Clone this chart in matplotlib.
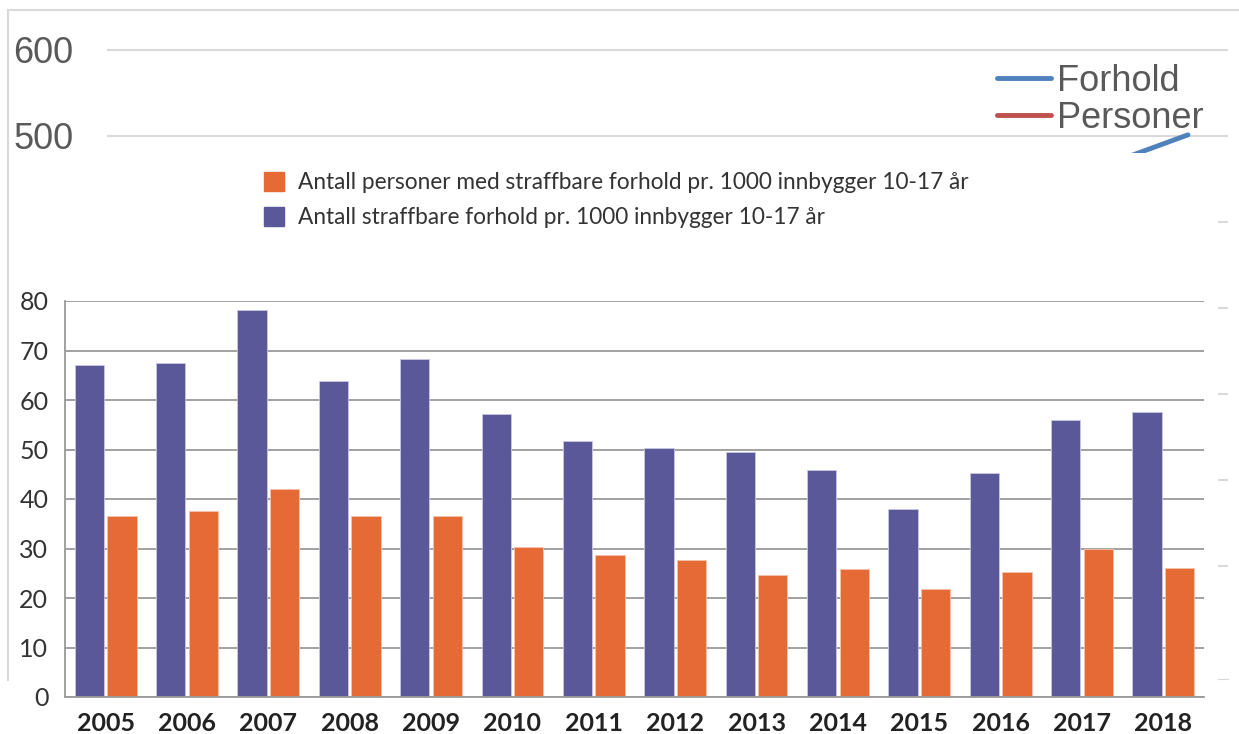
import numpy as np
import matplotlib
matplotlib.use("Agg")
import matplotlib.pyplot as plt
from matplotlib.lines import Line2D
from matplotlib.patches import Rectangle, Patch

# bar chart data (per 1000 inhabitants aged 10-17)
years = ['2005', '2006', '2007', '2008', '2009', '2010', '2011',
         '2012', '2013', '2014', '2015', '2016', '2017', '2018']
forhold = [67.0, 67.5, 78.2, 63.9, 68.3, 57.1, 51.8, 50.4, 49.4, 45.8, 37.9, 45.3, 56.0, 57.6]
personer = [36.6, 37.6, 42.0, 36.5, 36.5, 30.4, 28.7, 27.7, 24.7, 25.9, 21.8, 25.2, 29.8, 26.1]

# background line chart, only the last bit is visible
bg_years = [2017, 2018]
bg_forhold = [467, 501]
bg_ticks = [0, 100, 200, 300, 400, 500, 600]

W, H = 1239, 734
def box(x0, y0, x1, y1):
    return [x0 / W, 1 - y1 / H, (x1 - x0) / W, (y1 - y0) / H]

narrow = ['Lato', 'DejaVu Sans']
arial = ['Liberation Sans', 'DejaVu Sans']

fig = plt.figure(figsize=(W / 100, H / 100), dpi=100)

# --- background chart ---
bg = fig.add_axes(box(107, 10, 1228, 679))
bg.set_xlim(2004.5, 2018.5)
bg.set_ylim(-131, 646)
# labels under the pasted chart are hidden anyway
bg.set_yticks(bg_ticks, labels=[str(v) if v >= 500 else '' for v in bg_ticks])
bg.set_xticks([])
bg.grid(axis='y', color='#d9d9d9', lw=1.5)
for s in ['top', 'right', 'left']:
    bg.spines[s].set_visible(False)
bg.spines['bottom'].set_color('#d9d9d9')
bg.tick_params(axis='y', length=0, pad=24, labelsize=26, labelcolor='#595959')
for t in bg.get_yticklabels():
    t.set_family(arial)
bg.plot(bg_years, bg_forhold, color='#4f81bd', lw=3.5, solid_capstyle='round')
h = [Line2D([], [], color='#4f81bd', lw=3.5, solid_capstyle='round'),
     Line2D([], [], color='#c0504d', lw=3.5, solid_capstyle='round')]
leg = bg.legend(h, ['Forhold', 'Personer'], loc='upper left',
                bbox_to_anchor=(997 / W, 1 - 64 / H), bbox_transform=fig.transFigure,
                frameon=False, handlelength=1.5, handletextpad=0.15, labelspacing=0.05,
                borderpad=0, borderaxespad=0, prop={'family': arial, 'size': 26})
for t in leg.get_texts():
    t.set_color('#595959')

fig.add_artist(Line2D([8 / W, 1], [1 - 10 / H] * 2, color='#d9d9d9', lw=1.5, zorder=0.5))
fig.add_artist(Line2D([8 / W] * 2, [1 - 10 / H, 1 - 680 / H], color='#d9d9d9', lw=1.5, zorder=0.5))

# white patch of the pasted bar chart
fig.add_artist(Rectangle((9 / W, 0), (1218 - 9) / W, 1 - 153 / H, transform=fig.transFigure,
                         facecolor='white', edgecolor='none', zorder=1))

# --- bar chart ---
ax = fig.add_axes(box(65, 301, 1204, 697))
ax.set_zorder(2)
ax.patch.set_visible(False)
x = np.arange(len(years))
ax.bar(x - 0.2, forhold, 0.36, color='#5b5899', edgecolor='#c9c7e3', lw=0.6)
ax.bar(x + 0.2, personer, 0.36, color='#e56a35', edgecolor='#f6c3a8', lw=0.6)
ax.set_xlim(-0.5, len(years) - 0.5)
ax.set_ylim(0, 80)
ax.set_yticks(range(0, 81, 10))
ax.set_xticks(x)
ax.set_xticklabels(years)
ax.set_axisbelow(True)
ax.grid(axis='y', color='#9a9a9a', lw=1.3)
for s in ['top', 'right']:
    ax.spines[s].set_visible(False)
for s in ['left', 'bottom']:
    ax.spines[s].set_color('#9a9a9a')
    ax.spines[s].set_linewidth(1.3)
ax.tick_params(axis='y', length=0, pad=12, labelsize=18, labelcolor='#333333')
ax.tick_params(axis='x', length=0, pad=11, labelsize=18, labelcolor='#222222')
for t in ax.get_yticklabels():
    t.set_family(narrow)
for t in ax.get_xticklabels():
    t.set_family(narrow)
    t.set_fontweight('bold')

ph = [Patch(color='#e56a35'), Patch(color='#5b5899')]
ax.legend(ph, ['Antall personer med straffbare forhold pr. 1000 innbygger 10-17 år',
               'Antall straffbare forhold pr. 1000 innbygger 10-17 år'],
          loc='upper left', bbox_to_anchor=(264 / W, 1 - 172 / H), bbox_transform=fig.transFigure,
          frameon=False, handlelength=0.9, handleheight=0.9, handletextpad=0.6,
          labelspacing=0.62, borderpad=0, borderaxespad=0,
          prop={'family': narrow, 'size': 16.3}, labelcolor='#333333')

fig.savefig('out.png', dpi=100)
